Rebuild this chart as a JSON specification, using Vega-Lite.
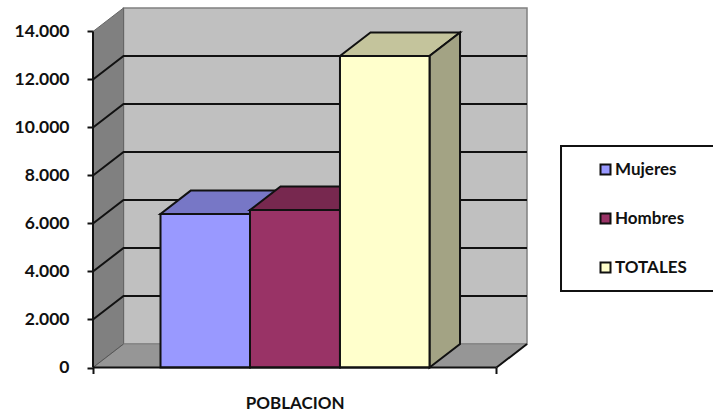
{
"$schema":"https://vega.github.io/schema/vega-lite/v6.json",
"width":434,"height":359.5,
"autosize":{"type":"none"},
"padding":{"left":93,"top":8,"right":186,"bottom":45.5},
"background":"white",
"config":{"view":{"stroke":null}},
"layer":[
{"data":{"values":[{"x":0.0756,"x2":1.0756,"y":979,"y2":14979}]},
 "mark":{"type":"rect","fill":"#c0c0c0","stroke":"#808080","strokeWidth":1.5},
 "encoding":{
  "x":{"field":"x","type":"quantitative","scale":{"domain":[0,1.0756],"nice":false,"zero":false},
    "axis":{"values":[0,1],"labels":false,"domain":false,"grid":false,"tickSize":6,"tickWidth":2,"tickColor":"#111","title":"POBLACION","titleFont":"Lato","titleFontWeight":"bold","titleFontSize":17,"titleColor":"#111","titleX":201.75,"titleY":35.5,"titleBaseline":"middle","titleAnchor":"middle","titleAlign":"center"}},
  "x2":{"field":"x2"},
  "y":{"field":"y","type":"quantitative","scale":{"domain":[0,14979],"nice":false},
    "axis":{"values":[0,2000,4000,6000,8000,10000,12000,14000],"labelExpr":"replace(format(datum.value,','),',','.')","domain":false,"grid":false,"tickSize":6,"tickWidth":2,"tickColor":"#111","labelFont":"Lato","labelFontWeight":"bold","labelFontSize":17.5,"labelColor":"#111","labelPadding":18,"title":null}},
  "y2":{"field":"y2"}
 }},
{"data":{"values":[{"x":1.1599,"x2":1.561,"y":3187,"y2":9229}]},
 "mark":{"type":"rect","fill":"white","stroke":"#111111","strokeWidth":2},
 "encoding":{"x":{"field":"x","type":"quantitative"},"x2":{"field":"x2"},"y":{"field":"y","type":"quantitative"},"y2":{"field":"y2"}}},
{"data":{"values":[{"x":0,"y":0,"y2":14000},{"x":0.0756,"y":979,"y2":14979}]},
 "mark":{"type":"area","fill":"#808080","stroke":"#666666","strokeWidth":1},
 "encoding":{"x":{"field":"x","type":"quantitative"},"y":{"field":"y","type":"quantitative"},"y2":{"field":"y2"}}},
{"data":{"values":[{"y":0,"x":0,"x2":1},{"y":979,"x":0.0756,"x2":1.0756}]},
 "mark":{"type":"area","orient":"horizontal","fill":"#969696","stroke":"#808080","strokeWidth":1},
 "encoding":{"y":{"field":"y","type":"quantitative"},"x":{"field":"x","type":"quantitative"},"x2":{"field":"x2"}}},
{"data":{"values":[
 {"v":2000,"x":0,"y":2000},{"v":2000,"x":0.0756,"y":2979},{"v":2000,"x":1.0756,"y":2979},
 {"v":4000,"x":0,"y":4000},{"v":4000,"x":0.0756,"y":4979},{"v":4000,"x":1.0756,"y":4979},
 {"v":6000,"x":0,"y":6000},{"v":6000,"x":0.0756,"y":6979},{"v":6000,"x":1.0756,"y":6979},
 {"v":8000,"x":0,"y":8000},{"v":8000,"x":0.0756,"y":8979},{"v":8000,"x":1.0756,"y":8979},
 {"v":10000,"x":0,"y":10000},{"v":10000,"x":0.0756,"y":10979},{"v":10000,"x":1.0756,"y":10979},
 {"v":12000,"x":0,"y":12000},{"v":12000,"x":0.0756,"y":12979},{"v":12000,"x":1.0756,"y":12979}
 ]},
 "mark":{"type":"line","stroke":"#111111","strokeWidth":2},
 "encoding":{"x":{"field":"x","type":"quantitative"},"y":{"field":"y","type":"quantitative"},"detail":{"field":"v"},"order":{"field":"x"}}},
{"data":{"values":[{"x":0,"y":0},{"x":0.0756,"y":979}]},
 "mark":{"type":"line","stroke":"#555555","strokeWidth":1},
 "encoding":{"x":{"field":"x","type":"quantitative"},"y":{"field":"y","type":"quantitative"}}},
{"data":{"values":[{"x":1,"y":0},{"x":1.0756,"y":979}]},
 "mark":{"type":"line","stroke":"#111111","strokeWidth":2},
 "encoding":{"x":{"field":"x","type":"quantitative"},"y":{"field":"y","type":"quantitative"}}},
{"data":{"values":[{"y":6400,"x":0.1673,"x2":0.3891},{"y":7379,"x":0.2429,"x2":0.4647}]},
 "mark":{"type":"area","orient":"horizontal","fill":"#7777c6","stroke":"#111111","strokeWidth":2},
 "encoding":{"y":{"field":"y","type":"quantitative"},"x":{"field":"x","type":"quantitative"},"x2":{"field":"x2"}}},
{"data":{"values":[{"y":6560,"x":0.3891,"x2":0.6121},{"y":7539,"x":0.4647,"x2":0.6877}]},
 "mark":{"type":"area","orient":"horizontal","fill":"#77284f","stroke":"#111111","strokeWidth":2},
 "encoding":{"y":{"field":"y","type":"quantitative"},"x":{"field":"x","type":"quantitative"},"x2":{"field":"x2"}}},
{"data":{"values":[{"y":12980,"x":0.6121,"x2":0.834},{"y":13959,"x":0.6877,"x2":0.9096}]},
 "mark":{"type":"area","orient":"horizontal","fill":"#c4c49c","stroke":"#111111","strokeWidth":2},
 "encoding":{"y":{"field":"y","type":"quantitative"},"x":{"field":"x","type":"quantitative"},"x2":{"field":"x2"}}},
{"data":{"values":[{"x":0.834,"y":0,"y2":12980},{"x":0.9096,"y":979,"y2":13959}]},
 "mark":{"type":"area","fill":"#a3a384","stroke":"#111111","strokeWidth":2},
 "encoding":{"x":{"field":"x","type":"quantitative"},"y":{"field":"y","type":"quantitative"},"y2":{"field":"y2"}}},
{"data":{"values":[
 {"serie":"Mujeres","x":0.1673,"x2":0.3891,"valor":6400},
 {"serie":"Hombres","x":0.3891,"x2":0.6121,"valor":6560},
 {"serie":"TOTALES","x":0.6121,"x2":0.834,"valor":12980}]},
 "mark":{"type":"rect","stroke":"#111111","strokeWidth":2},
 "encoding":{
  "x":{"field":"x","type":"quantitative"},"x2":{"field":"x2"},
  "y":{"field":"valor","type":"quantitative"},"y2":{"datum":0},
  "color":{"field":"serie","type":"nominal","scale":{"domain":["Mujeres","Hombres","TOTALES"],"range":["#9999ff","#993366","#ffffcc"]},
   "legend":{"title":null,"orient":"none","legendX":468,"legendY":138,"padding":15,"symbolOffset":21,"symbolType":"square","symbolSize":100,"symbolStrokeColor":"#111111","symbolStrokeWidth":2,"labelFont":"Lato","labelFontWeight":"bold","labelFontSize":17,"labelColor":"#111","labelOffset":1,"rowPadding":30,"labelLimit":300}}
 }},
{"data":{"values":[{"x":0,"y":0,"y2":14000}]},
 "mark":{"type":"rule","stroke":"#111111","strokeWidth":2},
 "encoding":{"x":{"field":"x","type":"quantitative"},"y":{"field":"y","type":"quantitative"},"y2":{"field":"y2"}}},
{"data":{"values":[{"x":0,"x2":1,"y":0}]},
 "mark":{"type":"rule","stroke":"#111111","strokeWidth":2},
 "encoding":{"x":{"field":"x","type":"quantitative"},"x2":{"field":"x2"},"y":{"field":"y","type":"quantitative"}}}
]
}
